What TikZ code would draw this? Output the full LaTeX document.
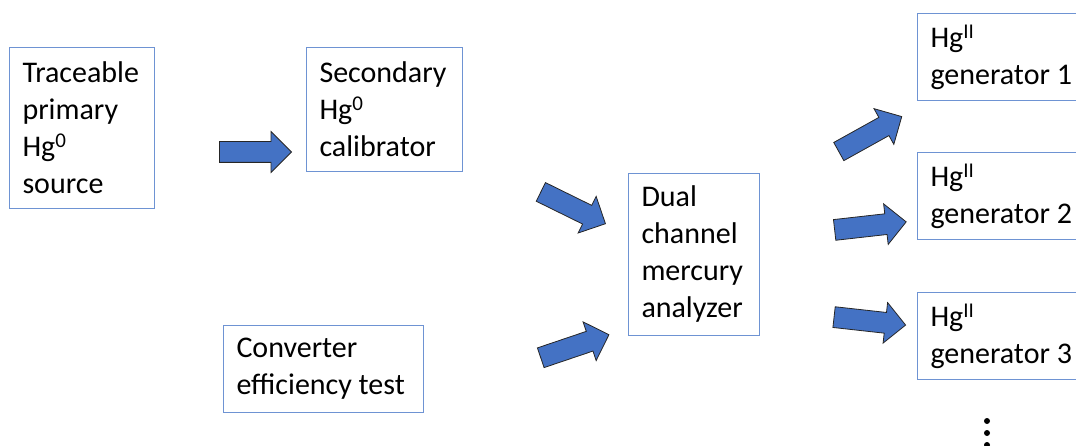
\documentclass[tikz,border=0pt]{standalone}
\usepackage{fontspec}
\setmainfont{Carlito}
\usetikzlibrary{positioning,shapes.arrows}
\definecolor{boxblue}{HTML}{6E93D3}
\definecolor{arrowblue}{HTML}{4472C4}

\begin{document}
\begin{tikzpicture}[x=1pt,y=-1pt,node distance=139.5pt,on grid,
  every node/.style={font=\fontsize{30}{37}\selectfont}]
  \useasboundingbox (0,0) rectangle (1076,446);
\tikzset{box/.style={draw=boxblue,line width=1pt,anchor=north west,align=flush left,inner xsep=13pt,inner ysep=0pt}}
  \node[box,minimum width=145,minimum height=161,text width=119] (T) at (9,47)   {Traceable\\primary\\Hg\textsuperscript{0}\\source};
  \node[box,minimum width=156,minimum height=124,text width=130] (S) at (306,47) {Secondary\\Hg\textsuperscript{0}\\calibrator};
  \node[box,minimum width=131,minimum height=162,text width=105] (D) at (628,173) {Dual\\channel\\mercury\\analyzer};
  \node[box,minimum width=200,minimum height=87,text width=174]  (C) at (223,325) {Converter\\efficiency test};
  \node[box,minimum width=170,minimum height=87,text width=144]  (G1) at (917,13) {Hg\textsuperscript{II}\\generator 1};
  \node[box,minimum width=170,minimum height=87,text width=144]  (G2) [below =of G1] {Hg\textsuperscript{II}\\generator 2};
  \node[box,minimum width=170,minimum height=87,text width=144]  (G3) [below =of G2] {Hg\textsuperscript{II}\\generator 3};
% block arrows
\tikzset{fatarrow/.style={single arrow,draw=black!85,fill=arrowblue,line width=0.8pt,
  minimum height=72,minimum width=0,inner xsep=0pt,inner ysep=10pt,
  single arrow head extend=10pt,single arrow tip angle=90,sloped,pos=0.44}}
  \coordinate (t1) at (219,152); \coordinate (h1) at (290,152);
  \coordinate (t2) at (539,191); \coordinate (h2) at (606,224);
  \coordinate (t3) at (540,358); \coordinate (h3) at (608,335);
  \coordinate (t4) at (838,152); \coordinate (h4) at (901,117);
  \coordinate (t5) at (834,230); \coordinate (h5) at (905,222);
  \coordinate (t6) at (833,317); \coordinate (h6) at (905,325);
\path (t1) -- node[fatarrow] {} (h1)
      (t2) -- node[fatarrow] {} (h2)
      (t3) -- node[fatarrow] {} (h3)
      (t4) -- node[fatarrow] {} (h4)
      (t5) -- node[fatarrow] {} (h5)
      (t6) -- node[fatarrow] {} (h6);
% more generators
\foreach \y in {421,433,445}
  \fill (987,\y) circle (3);
\end{tikzpicture}
\end{document}
